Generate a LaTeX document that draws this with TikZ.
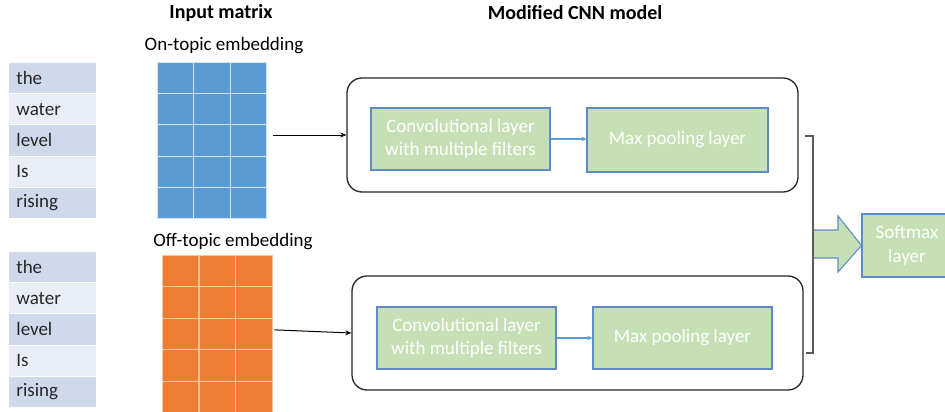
\documentclass[tikz,border=0pt]{standalone}
\usepackage{fontspec}
\setmainfont{Carlito}
\usetikzlibrary{arrows.meta,calc}
\definecolor{rowdark}{RGB}{207,217,235}
\definecolor{rowlight}{RGB}{233,238,246}
\definecolor{mblue}{RGB}{91,155,213}
\definecolor{morange}{RGB}{237,125,49}
\definecolor{lgreen}{RGB}{197,224,180}
\definecolor{gborder}{RGB}{96,140,196}
\definecolor{txt}{RGB}{38,38,38}
\begin{document}
\begin{tikzpicture}[x=1pt,y=-1pt,
  font=\fontsize{19pt}{23pt}\selectfont,
  wordcell/.style={minimum width=88pt, minimum height=31.2pt, text width=72pt, inner xsep=8pt, inner ysep=0pt, align=left, draw=white, line width=0.8pt, anchor=north west, text=txt},
  matcell/.style={minimum width=36.3pt, minimum height=31.3pt, inner sep=0pt, line width=0.8pt, anchor=north west},
  layerbox/.style={fill=lgreen, draw=gborder, line width=1.1pt, text=white, align=center, minimum width=179pt, minimum height=62pt, inner sep=0pt},
  groupbox/.style={draw=black!85, line width=1.3pt, rounded corners=15pt, minimum width=451pt, minimum height=114pt, inner sep=0pt},
  title/.style={font=\fontsize{20pt}{24pt}\selectfont\bfseries, text=black},
  sub/.style={text=black},
  blackarrow/.style={draw=black, line width=1pt, -{Stealth[length=6pt,width=5pt]}},
  bluearrow/.style={draw=mblue, line width=1.1pt, -{Stealth[length=5pt,width=4.5pt]}},
]
\useasboundingbox (0,0) rectangle (945,412);

% titles
\node[title] (t1) at (221,13) {Input matrix};
\node[title] (t2) at (575,13) {Modified CNN model};
\node[sub] (l1) at (224,46) {On-topic embedding};
\node[sub] (l2) at (233,242) {Off-topic embedding};

% word tables
\foreach \w/\c [count=\i from 0] in {the/rowdark,water/rowlight,level/rowdark,Is/rowlight,rising/rowdark}{
  \node[wordcell, fill=\c] (tw\i) at (8,{62+31.2*\i}) {\w};
  \node[wordcell, fill=\c] (bw\i) at (8,{251+31.2*\i}) {\w};
}

% embedding matrices
\foreach \r in {0,...,4}{
  \foreach \c in {0,...,2}{
    \node[matcell, fill=mblue, draw=white!75!mblue] (bm\r\c) at ({157+36.3*\c},{62+31.2*\r}) {};
    \node[matcell, fill=morange, draw=white!55!morange] (om\r\c) at ({162+36.6*\c},{255+31.4*\r}) {};
  }
}

% CNN groups
\node[groupbox] (topbox) at (572.5,135) {};
\node[groupbox] (botbox) at (577.5,333) {};

\node[layerbox] (conv1) at (460.5,139) {Convolutional layer\\with multiple filters};
\node[layerbox, minimum width=181pt, minimum height=64pt] (pool1) at (677.5,140) {Max pooling layer};
\node[layerbox] (conv2) at (466.5,338) {Convolutional layer\\with multiple filters};
\node[layerbox] (pool2) at (682.5,338) {Max pooling layer};

\draw[bluearrow] (conv1.east) -- (conv1.east -| pool1.west);
\draw[bluearrow] (conv2.east) -- (pool2.west);

% input arrows
\draw[blackarrow] ($(bm22.east|-topbox.west)+(6,0)$) -- (topbox.west);
\draw[blackarrow] ($(om22.east)+(2,-4)$) -- (botbox.west);

% softmax
\node[layerbox, minimum width=90pt, minimum height=63pt, font=\fontsize{19pt}{24pt}\selectfont] (soft) at (907,245.5) {Softmax\\layer};

% block arrow
\draw[fill=lgreen, draw=gborder, line width=1.1pt, line join=miter]
  (813,230) -- (838,230) -- (838,216) -- (soft.west) -- (838,272) -- (838,258) -- (813,258);

% bracket
\coordinate (bt) at ($(topbox.east)+(6,1)$);
\coordinate (bb) at ($(botbox.east)+(2,20)$);
\draw[draw=black!65, line width=1.3pt] (bt) -- (813,136) -- (813,353) -- (bb);
\end{tikzpicture}
\end{document}
